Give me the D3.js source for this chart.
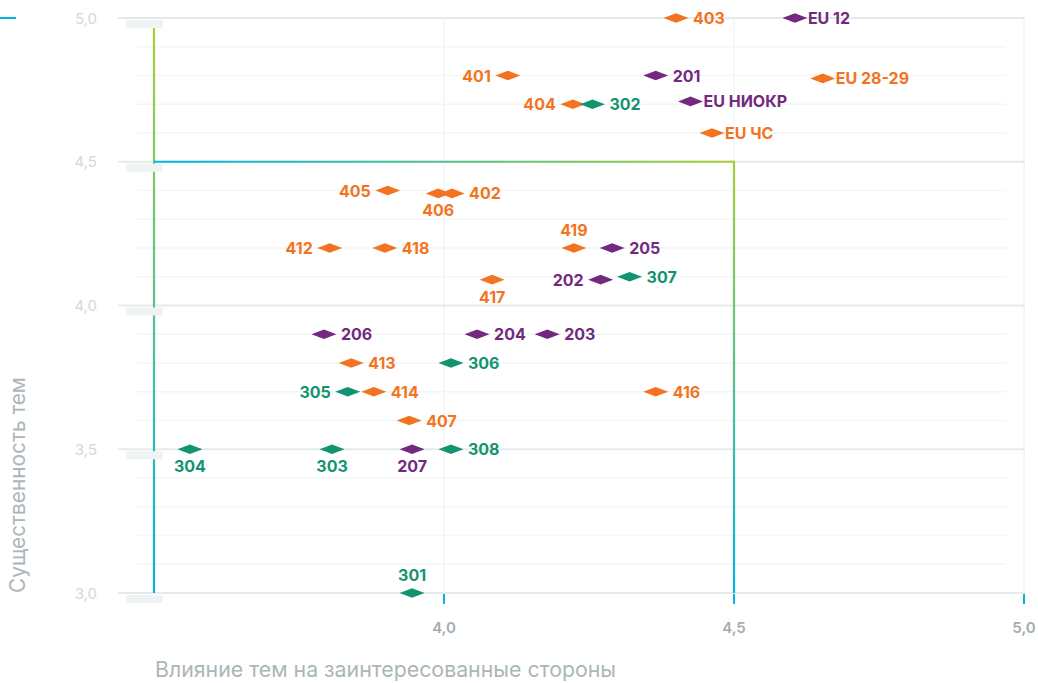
<!DOCTYPE html>
<html>
<head>
<meta charset="utf-8">
<script src="https://cdn.jsdelivr.net/npm/d3@7"></script>
<style>
  html, body { margin: 0; padding: 0; background: #ffffff; }
  svg { display: block; font-family: Inter, "Noto Sans", sans-serif; }
</style>
</head>
<body>
<svg id="chart" width="1038" height="683"></svg>
<script>
// ---- data ----
const labels = ["403","EU 12","401","201","EU 28-29","404","302","EU НИОКР","EU ЧС",
  "405","406","402","412","418","419","205","417","202","307",
  "206","204","203","413","306","305","414","416","407",
  "304","303","207","308","301"];
const xVals = [4.40,4.605,4.11,4.365,4.653,4.222,4.256,4.425,4.462,
  3.903,3.99,4.014,3.803,3.898,4.224,4.29,4.083,4.27,4.32,
  3.793,4.057,4.178,3.84,4.012,3.834,3.879,4.365,3.94,
  3.562,3.807,3.945,4.012,3.945];
const yVals = [5.0,5.0,4.8,4.8,4.79,4.7,4.7,4.71,4.6,
  4.4,4.39,4.39,4.2,4.2,4.2,4.2,4.09,4.09,4.1,
  3.9,3.9,3.9,3.8,3.8,3.7,3.7,3.7,3.6,
  3.5,3.5,3.5,3.5,3.0];
const groups = ["o","p","o","p","o","o","g","p","o",
  "o","o","o","o","o","o","p","o","p","g",
  "p","p","p","o","g","g","o","o","o",
  "g","g","p","g","g"];
const labelPos = ["r","r","l","r","r","l","r","r","r",
  "l","b","r","l","r","t","r","b","l","r",
  "r","r","r","r","r","l","r","r","r",
  "b","b","b","r","t"];
const xTicks = [4.0, 4.5, 5.0];
const xTickLabels = ["4,0","4,5","5,0"];
const yTicks = [3.0, 3.5, 4.0, 4.5, 5.0];
const yTickLabels = ["3,0","3,5","4,0","4,5","5,0"];
const yMinor = [3.1,3.2,3.3,3.4,3.6,3.7,3.8,3.9,4.1,4.2,4.3,4.4,4.6,4.7,4.8,4.9];
const threshold = {xLow: 3.5, xHigh: 4.5, yMid: 4.5, yLow: 3.0, yTop: 4.965};
const xTitle = "Влияние тем на заинтересованные стороны";
const yTitle = "Существенность тем";

const colors = {o: "#f37321", p: "#72297f", g: "#129470"};

// ---- scales ----
const x = d3.scaleLinear().domain([3.5, 5.0]).range([154, 1024]);
const y = d3.scaleLinear().domain([3.0, 5.0]).range([593, 18]);

const svg = d3.select("#chart");
const defs = svg.append("defs");
function grad(id, x1, y1, x2, y2, c1, c2) {
  const g = defs.append("linearGradient").attr("id", id)
    .attr("gradientUnits", "userSpaceOnUse")
    .attr("x1", x1).attr("y1", y1).attr("x2", x2).attr("y2", y2);
  g.append("stop").attr("offset", "0%").attr("stop-color", c1);
  g.append("stop").attr("offset", "100%").attr("stop-color", c2);
}
const LIME = "#a8cf38", CYAN = "#00b4e4";

// minor grid
svg.append("g").selectAll("line").data(yMinor).join("line")
  .attr("x1", 137).attr("x2", 1006)
  .attr("y1", d => y(d)).attr("y2", d => y(d))
  .attr("stroke", "#f3f5f6").attr("stroke-width", 1.5);

// vertical grid
svg.append("g").selectAll("line").data(xTicks).join("line")
  .attr("x1", d => x(d)).attr("x2", d => x(d))
  .attr("y1", y(5.0)).attr("y2", y(3.0))
  .attr("stroke", "#f3f5f6").attr("stroke-width", 1.5);

// major grid
svg.append("g").selectAll("line").data(yTicks).join("line")
  .attr("x1", 118).attr("x2", 1025)
  .attr("y1", d => y(d)).attr("y2", d => y(d))
  .attr("stroke", "#e5eaec").attr("stroke-width", 2);

// threshold lines
grad("gv1", 0, y(threshold.yTop), 0, y(threshold.yLow), LIME, CYAN);
grad("gh", x(threshold.xLow), 0, x(threshold.xHigh), 0, CYAN, LIME);
grad("gv2", 0, y(threshold.yMid), 0, y(threshold.yLow), LIME, CYAN);
svg.append("line")
  .attr("x1", x(threshold.xLow)).attr("x2", x(threshold.xLow))
  .attr("y1", y(threshold.yTop)).attr("y2", y(threshold.yLow))
  .attr("stroke", "url(#gv1)").attr("stroke-width", 2.2);
svg.append("line")
  .attr("x1", x(threshold.xLow)).attr("x2", x(threshold.xHigh) + 1)
  .attr("y1", y(threshold.yMid)).attr("y2", y(threshold.yMid))
  .attr("stroke", "url(#gh)").attr("stroke-width", 2.2);
svg.append("line")
  .attr("x1", x(threshold.xHigh)).attr("x2", x(threshold.xHigh))
  .attr("y1", y(threshold.yMid)).attr("y2", y(threshold.yLow))
  .attr("stroke", "url(#gv2)").attr("stroke-width", 2.2);

// y tick boxes
svg.append("g").selectAll("rect").data(yTicks).join("rect")
  .attr("x", 126).attr("width", 37)
  .attr("y", d => y(d) + 2).attr("height", 8)
  .attr("fill", "#f0f3f4");

// y tick labels
svg.append("g").selectAll("text").data(yTicks).join("text")
  .attr("x", 97).attr("y", d => y(d) + 5.5)
  .attr("text-anchor", "end")
  .attr("font-size", 15).attr("fill", "#d2d9db")
  .text((d, i) => yTickLabels[i]);

// x ticks (cyan)
svg.append("g").selectAll("line").data(xTicks).join("line")
  .attr("x1", d => x(d)).attr("x2", d => x(d))
  .attr("y1", y(3.0) + 1).attr("y2", y(3.0) + 11)
  .attr("stroke", CYAN).attr("stroke-width", 2);

svg.append("g").selectAll("text").data(xTicks).join("text")
  .attr("x", d => x(d)).attr("y", 633)
  .attr("text-anchor", "middle")
  .attr("font-size", 15).attr("font-weight", 600).attr("fill", "#a3adb0")
  .text((d, i) => xTickLabels[i]);

// axis titles
svg.append("text")
  .attr("x", 155).attr("y", 677)
  .attr("font-size", 21.3).attr("fill", "#abb6b9")
  .text(xTitle);
svg.append("text")
  .attr("transform", `translate(25,${y(3.0)}) rotate(-90)`)
  .attr("font-size", 20.8).attr("fill", "#abb6b9")
  .text(yTitle);

// legend fragment
svg.append("line").attr("x1", 0).attr("x2", 16).attr("y1", 18).attr("y2", 18)
  .attr("stroke", CYAN).attr("stroke-width", 2);

// points
const pts = labels.map((l, i) => ({l, xv: xVals[i], yv: yVals[i], g: groups[i], p: labelPos[i]}));
const diamond = "M-12.5,0L0,-4.8L12.5,0L0,4.8Z";
const pg = svg.append("g");
pg.selectAll("path").data(pts).join("path")
  .attr("d", diamond)
  .attr("transform", d => `translate(${x(d.xv)},${y(d.yv)})`)
  .attr("fill", d => colors[d.g]);

pg.selectAll("text").data(pts).join("text")
  .attr("font-size", 16).attr("font-weight", 700)
  .attr("fill", d => colors[d.g])
  .attr("text-anchor", d => d.p === "l" ? "end" : (d.p === "r" ? "start" : "middle"))
  .attr("x", d => {
    const cx = x(d.xv);
    const eu = d.l.startsWith("EU");
    if (d.p === "r") return cx + (eu ? 13 : 17);
    if (d.p === "l") return cx - 17;
    return cx;
  })
  .attr("y", d => {
    const cy = y(d.yv);
    if (d.p === "b") return cy + 23;
    if (d.p === "t") return cy - 12;
    return cy + 6;
  })
  .text(d => d.l);
</script>
</body>
</html>
